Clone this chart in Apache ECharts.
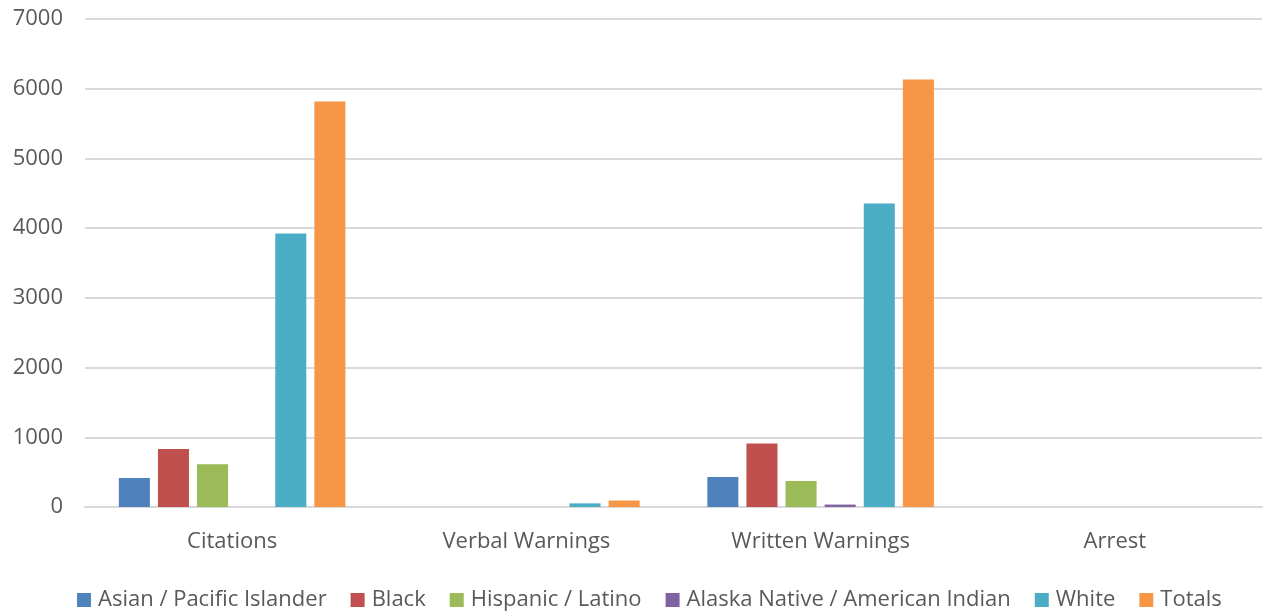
<!DOCTYPE html>
<html>
<head>
<meta charset="utf-8">
<script src="https://cdn.jsdelivr.net/npm/echarts@6/dist/echarts.min.js"></script>
<style>
  html, body { margin: 0; padding: 0; background: #fff; }
  #chart { width: 1265px; height: 614px; }
</style>
</head>
<body>
<div id="chart"></div>
<script>
// Outcome categories along the x axis
const categories = ['Citations', 'Verbal Warnings', 'Written Warnings', 'Arrest'];

// Counts per group for each outcome
const asianPacific = [416, 0, 430, 0];
const black = [832, 0, 910, 0];
const hispanicLatino = [612, 0, 373, 0];
const alaskaNativeAmIndian = [0, 0, 35, 0];
const white = [3924, 52, 4354, 0];
const totals = [5818, 93, 6133, 0];

const seriesNames = [
  'Asian / Pacific Islander',
  'Black',
  'Hispanic / Latino',
  'Alaska Native / American Indian',
  'White',
  'Totals'
];
const seriesData = [asianPacific, black, hispanicLatino, alaskaNativeAmIndian, white, totals];
const colors = ['#4f81bd', '#c0504d', '#9bbb59', '#8064a2', '#4bacc6', '#f79646'];

const FONT = '"Open Sans", sans-serif';
const TEXT = '#595959';

const chart = echarts.init(document.getElementById('chart'), null, { renderer: 'canvas' });

chart.setOption({
  animation: false,
  color: colors,
  grid: { left: 85, right: 3, top: 19, bottom: 107, containLabel: false },
  legend: {
    top: 584,
    left: 72,
    itemWidth: 14,
    itemHeight: 14,
    itemGap: 24,
    icon: 'rect',
    textStyle: { fontFamily: FONT, fontSize: 22, color: TEXT, padding: [0, 0, 0, 2] },
    data: seriesNames
  },
  xAxis: {
    type: 'category',
    data: categories,
    axisTick: { show: false },
    axisLine: { show: true, lineStyle: { color: '#d9d9d9', width: 2 } },
    axisLabel: { fontFamily: FONT, fontSize: 22, color: TEXT, margin: 24 }
  },
  yAxis: {
    type: 'value',
    min: 0,
    max: 7000,
    interval: 1000,
    axisLine: { show: false },
    axisTick: { show: false },
    splitLine: { lineStyle: { color: '#d9d9d9', width: 2 } },
    axisLabel: {
      fontFamily: FONT, fontSize: 22, color: TEXT, margin: 22,
      formatter: (v) => String(v)
    }
  },
  series: seriesNames.map((name, i) => ({
    name: name,
    type: 'bar',
    data: seriesData[i],
    barGap: '26%',
    barCategoryGap: '23%',
    itemStyle: { color: colors[i] }
  }))
});
</script>
</body>
</html>
